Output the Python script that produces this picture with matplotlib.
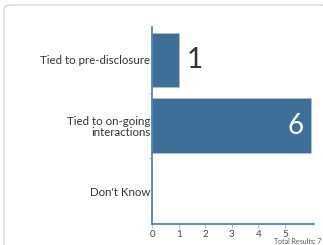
import numpy as np
import matplotlib.pyplot as plt
from matplotlib.patches import FancyBboxPatch

categories = ["Tied to pre-disclosure", "Tied to on-going\ninteractions", "Don't Know"]
counts = [1, 6, 0]
xticks = [0, 1, 2, 3, 4, 5]
total = 7

plt.rcParams['font.family'] = ['Lato', 'DejaVu Sans']
bar_color = '#3d6f99'
spine_color = '#3f7db3'
text_color = '#333333'

fig = plt.figure(figsize=(3.23, 2.45), dpi=100)
# card border
fig.patches.append(FancyBboxPatch((4/323, -0.05), 1.0, 1 - 5/245 + 0.05,
                                  boxstyle="round,pad=0,rounding_size=0.02",
                                  transform=fig.transFigure, fc='white',
                                  ec='#cccccc', lw=0.8, zorder=-5))

ax = fig.add_axes([152/323, 21/245, 162/323, 197/245])
ax.set_facecolor('none')
y = np.arange(len(categories))
ax.barh(y, counts, height=0.83, color=bar_color, edgecolor='#a9c4dc', linewidth=0.5)
ax.set_xlim(0, 6.1)
ax.set_ylim(2.5, -0.5)

for yi, v in zip(y, counts):
    if v == 0:
        continue
    if v >= 3:
        ax.text(v - 0.3, yi, str(v), ha='right', va='center', fontsize=20, color='white')
    else:
        ax.text(v + 0.32, yi, str(v), ha='left', va='center', fontsize=20, color=text_color)

ax.set_yticks(y)
ax.set_yticklabels(categories, fontsize=8.3, color=text_color, linespacing=1.05)
ax.set_yticks([0.5, 1.5], minor=True)
ax.tick_params(axis='y', which='major', length=0, pad=1)
ax.tick_params(axis='y', which='minor', length=2, color='#bbbbbb', width=0.8)
ax.set_xticks(xticks)
ax.tick_params(axis='x', length=3, color='#bbbbbb', labelsize=7, labelcolor='#444444', pad=1)

for s in ['top', 'right']:
    ax.spines[s].set_visible(False)
for s in ['left', 'bottom']:
    ax.spines[s].set_color(spine_color)
    ax.spines[s].set_linewidth(1.2)

fig.text(321/323, 1 - 241/245, f"Total Results: {total}", ha='right', va='center',
         fontsize=5, color='#555555')

fig.savefig('out.png', dpi=100)
